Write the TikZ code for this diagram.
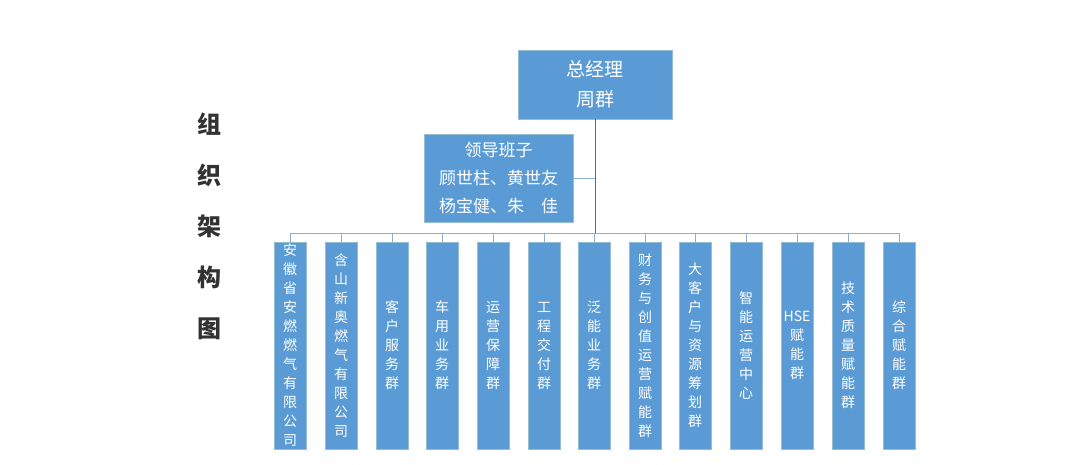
\documentclass[tikz,border=0pt]{standalone}
\usepackage{fontspec}
\setmainfont{Noto Sans CJK SC}
\begin{document}
\begin{tikzpicture}[x=1pt,y=-1pt,
 box/.style={draw=blue!30!cyan!40!gray!60, fill={rgb,255:red,91;green,155;blue,213}, text=white, line width=0.8pt, inner sep=0pt, align=center},
 col/.style={box, minimum width=32, minimum height=207, font=\fontsize{14}{19}\selectfont},
 ln/.style={draw={rgb,255:red,65;green,113;blue,156}, line width=0.9pt},
 br/.style={draw={rgb,255:red,140;green,175;blue,210}, line width=0.9pt}]
\useasboundingbox (0,0) rectangle (1087,464);
\node[box, minimum width=154, minimum height=69, font=\fontsize{19}{30}\selectfont] (gm) at (595,84.5) {总经理\\周群};
\node[box, minimum width=149, minimum height=88, font=\fontsize{17}{28}\selectfont] (ld) at (498.5,178) {领导班子\\顾世柱、黄世友\\杨宝健、朱\quad 佳};
\node[font=\fontsize{24}{51}\selectfont\bfseries, align=center, text={rgb,255:red,50;green,50;blue,50}] (tt) at (209,226) {组\\织\\架\\构\\图};
\coordinate (bus) at (595,233);
\coordinate (lj) at (595,178);
\draw[ln] (gm.south) -- (bus);
\draw[br] (ld.east) -- (lj);
\def\cols{{"安\\徽\\省\\安\\燃\\燃\\气\\有\\限\\公\\司","含\\山\\新\\奥\\燃\\气\\有\\限\\公\\司","客\\户\\服\\务\\群","车\\用\\业\\务\\群","运\\营\\保\\障\\群","工\\程\\交\\付\\群","泛\\能\\业\\务\\群","财\\务\\与\\创\\值\\运\\营\\赋\\能\\群","大\\客\\户\\与\\资\\源\\筹\\划\\群","智\\能\\运\\营\\中\\心","HSE\\赋\\能\\群","技\\术\\质\\量\\赋\\能\\群","综\\合\\赋\\能\\群"}}
\node[col] (c1) at (290,345.5) {安\\徽\\省\\安\\燃\\燃\\气\\有\\限\\公\\司};
\node[col] (c2) at (341,345.5) {含\\山\\新\\奥\\燃\\气\\有\\限\\公\\司};
\node[col] (c3) at (392,345.5) {客\\户\\服\\务\\群};
\node[col] (c4) at (442,345.5) {车\\用\\业\\务\\群};
\node[col] (c5) at (493,345.5) {运\\营\\保\\障\\群};
\node[col] (c6) at (544,345.5) {工\\程\\交\\付\\群};
\node[col] (c7) at (594,345.5) {泛\\能\\业\\务\\群};
\node[col] (c8) at (645,345.5) {财\\务\\与\\创\\值\\运\\营\\赋\\能\\群};
\node[col] (c9) at (695,345.5) {大\\客\\户\\与\\资\\源\\筹\\划\\群};
\node[col] (c10) at (746,345.5) {智\\能\\运\\营\\中\\心};
\node[col] (c11) at (797,345.5) {HSE\\赋\\能\\群};
\node[col] (c12) at (848,345.5) {技\\术\\质\\量\\赋\\能\\群};
\node[col] (c13) at (899,345.5) {综\\合\\赋\\能\\群};
\draw[br] (c1.north|-bus) -- (c13.north|-bus);
\foreach \i in {1,...,13} \draw[br] (c\i.north|-bus) -- (c\i.north);
\end{tikzpicture}
\end{document}
